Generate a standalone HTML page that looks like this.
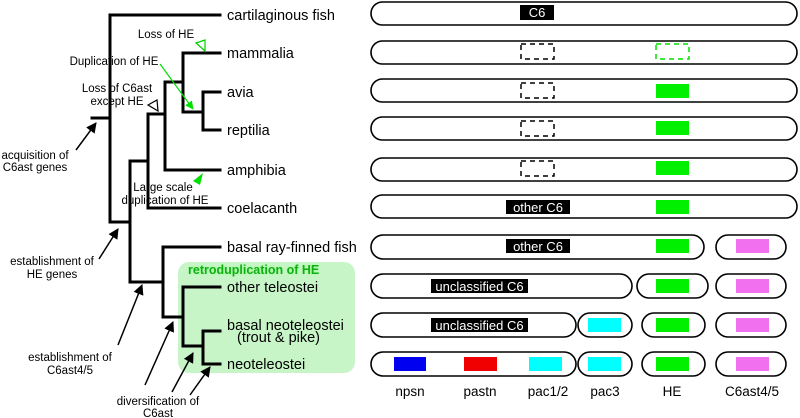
<!DOCTYPE html>
<html><head><meta charset="utf-8"><style>
html,body{margin:0;padding:0;background:#fff;}
svg{display:block;font-family:"Liberation Sans",Arial,sans-serif;}
</style></head><body>
<svg width="800" height="418" viewBox="0 0 800 418" xmlns="http://www.w3.org/2000/svg">
<defs>
<marker id="ab" viewBox="0 0 10 10" refX="9" refY="5" markerWidth="7" markerHeight="7" orient="auto"><path d="M0,0 L10,5 L0,10 z" fill="#000"/></marker>
<marker id="ag" viewBox="0 0 10 10" refX="9" refY="5" markerWidth="7" markerHeight="7" orient="auto"><path d="M0,0 L10,5 L0,10 z" fill="#00e000"/></marker>
<filter id="glow"><feGaussianBlur stdDeviation="1.5"/></filter>
</defs>
<rect x="178" y="262" width="177" height="111" rx="11" fill="#c8f5c8"/>
<text x="188" y="274" font-size="12.5" font-weight="bold" fill="#9f9" filter="url(#glow)">retroduplication of HE</text>
<text x="188" y="274" font-size="12.5" font-weight="bold" fill="#10b010">retroduplication of HE</text>

<g stroke="#000" stroke-width="3" fill="none" stroke-linecap="square">
<path d="M220,15 H110 V222 H130"/>
<path d="M92,118 H110"/>
<path d="M148,161 H130 V282 H163"/>
<path d="M220,208 H148 V114 H165"/>
<path d="M220,170 H165 V82 H183"/>
<path d="M220,53 H183 V112 H203"/>
<path d="M220,92 H203 V130 H220"/>
<path d="M220,247 H163 V317 H183"/>
<path d="M220,287 H183 V346 H203"/>
<path d="M220,331 H203 V364 H220"/>
</g>
<g font-size="14.5" fill="#000">
<text x="227" y="20">cartilaginous fish</text>
<text x="227" y="58">mammalia</text>
<text x="227" y="97">avia</text>
<text x="227" y="135">reptilia</text>
<text x="227" y="175">amphibia</text>
<text x="227" y="213">coelacanth</text>
<text x="227" y="252">basal ray-finned fish</text>
<text x="227" y="292">other teleostei</text>
<text x="227" y="330">basal neoteleostei</text>
<text x="237" y="342">(trout &amp; pike)</text>
<text x="227" y="369">neoteleostei</text>
</g>
<g font-size="11.5" fill="#000" text-anchor="middle">
<text x="166" y="38">Loss of HE</text>
<text x="114" y="65">Duplication of HE</text>
<text x="117" y="92">Loss of C6ast</text>
<text x="117" y="105">except HE</text>
<text x="163" y="191">Large scale</text>
<text x="165" y="204">duplication of HE</text>
<text x="35" y="159">acquisition of</text>
<text x="35" y="171">C6ast genes</text>
<text x="52" y="265">establishment of</text>
<text x="52" y="278">HE genes</text>
<text x="70" y="361">establishment of</text>
<text x="70" y="374">C6ast4/5</text>
<text x="158" y="405">diversification of</text>
<text x="158" y="417">C6ast</text>
</g>
<g stroke="#000" stroke-width="1.5" fill="none">
<line x1="76" y1="150" x2="96" y2="123" marker-end="url(#ab)"/>
<line x1="99" y1="259" x2="118" y2="229" marker-end="url(#ab)"/>
<line x1="118" y1="345" x2="142" y2="285" marker-end="url(#ab)"/>
<line x1="145" y1="385" x2="173" y2="322" marker-end="url(#ab)"/>
<line x1="172" y1="392" x2="193" y2="353" marker-end="url(#ab)"/>
<line x1="190" y1="395" x2="210" y2="367" marker-end="url(#ab)"/>
</g>
<line x1="160" y1="64" x2="193" y2="109" stroke="#00e000" stroke-width="1.2" marker-end="url(#ag)"/>
<polygon points="196,43 205,40 205,51" fill="#fff" stroke="#00d000" stroke-width="1.2"/>
<polygon points="148,105 157,100 158,111" fill="#fff" stroke="#000" stroke-width="1.2"/>
<polygon points="193,181 203,173 200,185" fill="#00e000"/>

<g fill="none" stroke="#000" stroke-width="1.6">
<rect x="371" y="2" width="426" height="23" rx="11.5"/>
<rect x="371" y="41" width="426" height="23" rx="11.5"/>
<rect x="371" y="79" width="426" height="23" rx="11.5"/>
<rect x="371" y="117" width="426" height="23" rx="11.5"/>
<rect x="371" y="158" width="426" height="23" rx="11.5"/>
<rect x="371" y="195" width="426" height="23" rx="11.5"/>
<rect x="371" y="235" width="333" height="24" rx="12"/>
<rect x="716" y="235" width="70" height="24" rx="12"/>
<rect x="371" y="274" width="261" height="24" rx="12"/>
<rect x="637" y="274" width="71" height="24" rx="12"/>
<rect x="716" y="274" width="70" height="24" rx="12"/>
<rect x="371" y="313" width="205" height="24" rx="12"/>
<rect x="578" y="313" width="54" height="24" rx="12"/>
<rect x="642" y="313" width="63" height="24" rx="12"/>
<rect x="716" y="313" width="70" height="24" rx="12"/>
<rect x="371" y="352" width="205" height="24" rx="12"/>
<rect x="578" y="352" width="54" height="24" rx="12"/>
<rect x="642" y="352" width="63" height="24" rx="12"/>
<rect x="716" y="352" width="70" height="24" rx="12"/>
</g>
<g fill="none" stroke-width="1.5" stroke-dasharray="5,4">
<rect x="521" y="44" width="33" height="15" stroke="#000"/>
<rect x="656" y="44" width="33" height="15" stroke="#00e000"/>
<rect x="521" y="83" width="33" height="15" stroke="#000"/>
<rect x="521" y="121" width="33" height="15" stroke="#000"/>
<rect x="521" y="161" width="33" height="15" stroke="#000"/>
</g>
<g fill="#00f000">
<rect x="656" y="84" width="33" height="14"/>
<rect x="656" y="121" width="33" height="14"/>
<rect x="656" y="161" width="33" height="14"/>
<rect x="656" y="200" width="33" height="14"/>
<rect x="656" y="239" width="33" height="14"/>
<rect x="656" y="279" width="33" height="14"/>
<rect x="656" y="318" width="33" height="14"/>
<rect x="656" y="357" width="33" height="14"/>
</g>
<g fill="#f070f0">
<rect x="736" y="239" width="33" height="14"/>
<rect x="736" y="279" width="33" height="14"/>
<rect x="736" y="318" width="33" height="14"/>
<rect x="736" y="357" width="33" height="14"/>
</g>
<g fill="#00ffff">
<rect x="588" y="318" width="33" height="14"/>
<rect x="529" y="357" width="33" height="14"/>
<rect x="588" y="357" width="33" height="14"/>
</g>
<rect x="394" y="357" width="32" height="14" fill="#0000f0"/>
<rect x="464" y="357" width="33" height="14" fill="#f00000"/>
<rect x="520" y="5" width="34" height="15" fill="#000"/>
<text x="537" y="17" font-size="13" fill="#fff" text-anchor="middle">C6</text>
<rect x="506" y="200" width="64" height="14" fill="#000"/>
<text x="538" y="212" font-size="13" fill="#fff" text-anchor="middle">other C6</text>
<rect x="506" y="239" width="64" height="14" fill="#000"/>
<text x="538" y="251" font-size="13" fill="#fff" text-anchor="middle">other C6</text>
<rect x="431" y="279" width="97" height="14" fill="#000"/>
<text x="479.5" y="291" font-size="13" fill="#fff" text-anchor="middle">unclassified C6</text>
<rect x="431" y="318" width="97" height="14" fill="#000"/>
<text x="479.5" y="330" font-size="13" fill="#fff" text-anchor="middle">unclassified C6</text>
<g font-size="13.5" fill="#000" text-anchor="middle">
<text x="410" y="396">npsn</text>
<text x="480" y="396">pastn</text>
<text x="548" y="396">pac1/2</text>
<text x="605" y="396">pac3</text>
<text x="672" y="396">HE</text>
<text x="752" y="396">C6ast4/5</text>
</g>
</svg>
</body></html>
